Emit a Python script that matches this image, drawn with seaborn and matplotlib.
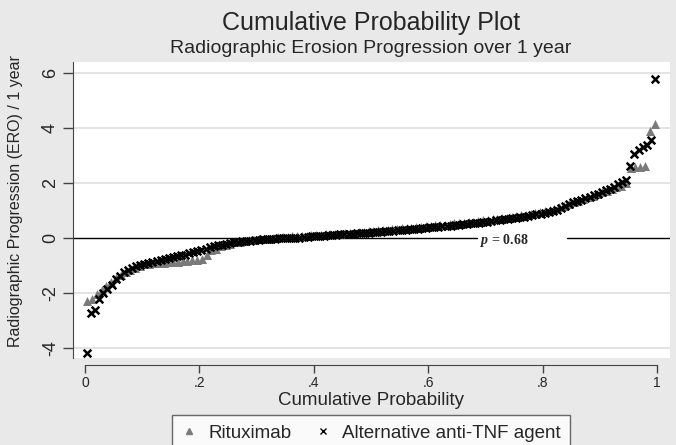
import numpy as np
import pandas as pd
import matplotlib
matplotlib.use('Agg')
import matplotlib.pyplot as plt
import seaborn as sns
from matplotlib.lines import Line2D

# sorted radiographic erosion progression per year
rituximab_ero = [
    -2.30, -2.20, -2.05, -1.90, -1.75, -1.60, -1.45, -1.35, -1.25, -1.15,
    -1.08, -1.00, -0.96, -0.93, -0.91, -0.90, -0.89, -0.88, -0.87, -0.86,
    -0.85, -0.83, -0.81, -0.79, -0.76, -0.60, -0.45, -0.38, -0.30, -0.25,
    -0.20, -0.16, -0.13, -0.10, -0.08, -0.06, -0.04, -0.03, -0.02, -0.01,
    0.03, 0.04, 0.05, 0.06, 0.07, 0.08, 0.09, 0.10, 0.11, 0.12,
    0.13, 0.14, 0.15, 0.16, 0.18, 0.19, 0.20, 0.22, 0.23, 0.25,
    0.26, 0.28, 0.29, 0.31, 0.32, 0.34, 0.35, 0.37, 0.38, 0.40,
    0.41, 0.43, 0.44, 0.46, 0.48, 0.49, 0.51, 0.53, 0.54, 0.56,
    0.58, 0.60, 0.62, 0.64, 0.66, 0.68, 0.70, 0.72, 0.74, 0.77,
    0.79, 0.82, 0.85, 0.88, 0.91, 0.95, 0.98, 1.02, 1.07, 1.13,
    1.15, 1.22, 1.30, 1.36, 1.42, 1.48, 1.54, 1.60, 1.66, 1.72,
    1.78, 1.84, 1.90, 2.00, 2.55, 2.60, 2.60, 2.62, 3.90, 4.15,
]
anti_tnf_ero = [
    -4.18, -2.72, -2.60, -2.20, -2.00, -1.85, -1.70, -1.50, -1.38, -1.25,
    -1.15, -1.08, -1.02, -0.97, -0.93, -0.90, -0.87, -0.84, -0.80, -0.77,
    -0.73, -0.70, -0.67, -0.63, -0.60, -0.55, -0.50, -0.46, -0.42, -0.38,
    -0.34, -0.30, -0.27, -0.24, -0.21, -0.18, -0.16, -0.14, -0.12, -0.10,
    -0.09, -0.07, -0.06, -0.05, -0.04, -0.03, -0.02, -0.01, 0.00, 0.00,
    0.01, 0.02, 0.02, 0.03, 0.05, 0.06, 0.06, 0.08, 0.09, 0.10,
    0.10, 0.12, 0.13, 0.14, 0.15, 0.15, 0.17, 0.18, 0.19, 0.20,
    0.21, 0.22, 0.235, 0.25, 0.26, 0.27, 0.28, 0.29, 0.305, 0.32,
    0.33, 0.345, 0.36, 0.37, 0.385, 0.40, 0.41, 0.425, 0.44, 0.45,
    0.465, 0.48, 0.50, 0.51, 0.53, 0.545, 0.56, 0.58, 0.60, 0.62,
    0.64, 0.66, 0.68, 0.70, 0.72, 0.74, 0.76, 0.78, 0.80, 0.83,
    0.86, 0.88, 0.90, 0.93, 0.98, 1.03, 1.10, 1.17, 1.24, 1.30,
    1.35, 1.40, 1.45, 1.50, 1.55, 1.60, 1.67, 1.74, 1.80, 1.87,
    1.95, 2.02, 2.10, 2.62, 3.05, 3.20, 3.30, 3.40, 3.55, 5.78,
]
groups = ['Rituximab', 'Alternative anti-TNF agent']
y_ticks = [-4, -2, 0, 2, 4, 6]
x_ticks = [0, 0.2, 0.4, 0.6, 0.8, 1]
x_tick_labels = ['0', '.2', '.4', '.6', '.8', '1']
p_text = '= 0.68'


def quantile_frame(values, name):
    v = np.sort(np.asarray(values))
    n = len(v)
    return pd.DataFrame({'prob': (np.arange(1, n + 1) - 0.5) / n, 'ero': v, 'group': name})


df = pd.concat([quantile_frame(rituximab_ero, groups[0]),
                quantile_frame(anti_tnf_ero, groups[1])], ignore_index=True)

sns.set_style('white')
plt.rcParams['font.family'] = ['Liberation Sans', 'DejaVu Sans']
plt.rcParams['axes.unicode_minus'] = False
plt.rcParams['mathtext.fontset'] = 'custom'
plt.rcParams['mathtext.it'] = 'Liberation Serif:italic:bold'
plt.rcParams['mathtext.rm'] = 'Liberation Serif:bold'

bg = '#e9e9e9'
fig = plt.figure(figsize=(6.76, 4.45), dpi=100, facecolor=bg)
ax = fig.add_axes([0.108, 0.1955, 0.883, 0.6652])
ax.set_facecolor('white')

sns.scatterplot(data=df[df.group == groups[0]], x='prob', y='ero', marker='^',
                color='#7a7a7a', s=42, linewidth=0, ax=ax, legend=False, zorder=3)
sns.scatterplot(data=df[df.group == groups[1]], x='prob', y='ero', marker='x',
                color='black', s=30, linewidth=1.8, ax=ax, legend=False, zorder=4)

ax.set_xlim(-0.021, 1.0227)
ax.set_ylim(-4.36, 6.4)
ax.set_yticks(y_ticks)
ax.set_yticklabels([str(t) for t in y_ticks], rotation=90, va='center', fontsize=13)
ax.set_xticks(x_ticks)
ax.set_xticklabels(x_tick_labels, fontsize=13)

# light horizontal grid, zero line broken around the p-value
for t in y_ticks:
    if t != 0:
        ax.axhline(t, color='#dedede', lw=1.2, zorder=1)
ax.axhline(0, xmin=0, xmax=0.677, color='black', lw=1.0, zorder=2)
ax.axhline(0, xmin=0.827, xmax=1, color='black', lw=1.0, zorder=2)
ax.text(0.734, -0.1, '$p$ ' + p_text, ha='center', va='center', fontsize=10,
        family='Liberation Serif', weight='bold')

for s in ['top', 'right']:
    ax.spines[s].set_visible(False)
ax.spines['left'].set_color('#444444')
ax.spines['bottom'].set_color('#444444')
ax.spines['bottom'].set_position(('outward', 5))
ax.spines['bottom'].set_bounds(0, 1)
ax.tick_params(axis='y', length=7, width=1, color='#444444', pad=3, left=True)
ax.tick_params(axis='x', length=6, width=1, color='#444444', pad=2, bottom=True)

ax.set_xlabel('Cumulative Probability', fontsize=13.5)
ax.xaxis.set_label_coords(0.5, -0.142)
ax.xaxis.label.set_verticalalignment('center')
ax.set_ylabel('Radiographic Progression (ERO) / 1 year', fontsize=11.5)
ax.yaxis.set_label_coords(-0.097, 0.53)
ax.yaxis.label.set_verticalalignment('center')

fig.text(0.549, 0.949, 'Cumulative Probability Plot', ha='center', va='center', fontsize=18)
fig.text(0.549, 0.892, 'Radiographic Erosion Progression over 1 year', ha='center',
         va='center', fontsize=14)

handles = [Line2D([], [], marker='^', color='#7a7a7a', ls='none', markersize=5),
           Line2D([], [], marker='x', color='black', ls='none', markersize=4, mew=1)]
leg = fig.legend(handles, groups, loc='upper center', bbox_to_anchor=(0.549, 0.0674),
                 borderaxespad=0, ncol=2, fontsize=13.5, frameon=True, fancybox=False,
                 edgecolor='#444444', handlelength=0.8, handletextpad=0.6,
                 columnspacing=1.3, borderpad=0.5)
leg.get_frame().set_linewidth(1.0)

fig.savefig('out.png', dpi=100, facecolor=bg)
